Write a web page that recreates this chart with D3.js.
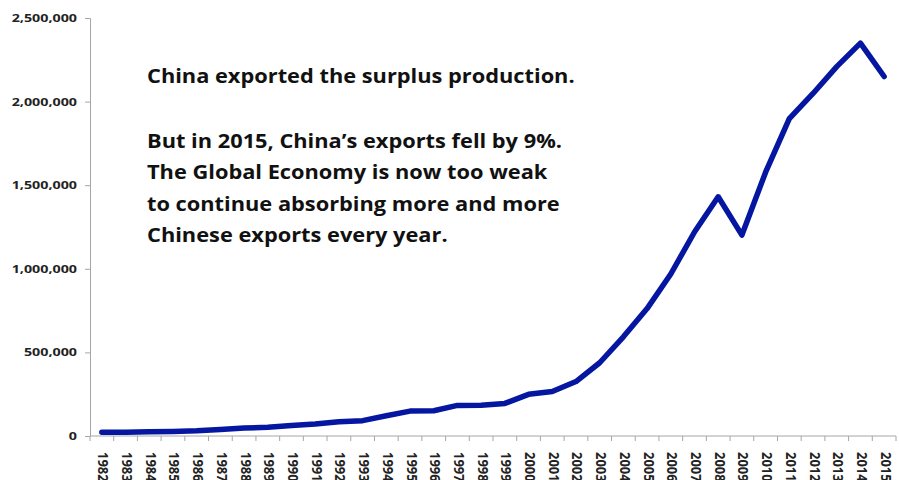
<!DOCTYPE html>
<html>
<head>
<meta charset="utf-8">
<script src="https://cdn.jsdelivr.net/npm/d3@7"></script>
<style>
  html, body { margin: 0; padding: 0; background: #fff; }
  svg { display: block; }
</style>
</head>
<body>
<svg id="chart" width="899" height="480"></svg>
<script>
// China's annual exports (US$ millions)
const years = [1982, 1983, 1984, 1985, 1986, 1987, 1988, 1989, 1990, 1991,
  1992, 1993, 1994, 1995, 1996, 1997, 1998, 1999, 2000, 2001, 2002, 2003,
  2004, 2005, 2006, 2007, 2008, 2009, 2010, 2011, 2012, 2013, 2014, 2015];
const exportsValues = [22300, 22200, 26100, 27400, 30900, 39400, 47500, 52500,
  62100, 71800, 84900, 91700, 121000, 148800, 151000, 182800, 183700, 194900,
  249200, 266100, 325600, 438200, 593300, 762000, 969000, 1220100, 1430700,
  1201600, 1577800, 1898400, 2048700, 2209000, 2350000, 2150000];
const yTicks = [0, 500000, 1000000, 1500000, 2000000, 2500000];
const noteLines = [
  "China exported the surplus production.",
  "",
  "But in 2015, China\u2019s exports fell by 9%.",
  "The Global Economy is now too weak",
  "to continue absorbing more and more",
  "Chinese exports every year."
];

const svg = d3.select("#chart");
const plotLeft = 90, plotRight = 896, plotTop = 18, plotBottom = 436;
const font = "'Open Sans', Lato, sans-serif";
const axisGrey = "#a6a6a6";
const yLabelStretch = 1.3;   // labels are set in a wide, Calibri-like cut
const xLabelStretch = 1.12;

const x = d3.scaleBand().domain(years).range([plotLeft, plotRight]);
const y = d3.scaleLinear().domain([0, 2500000]).range([plotBottom, plotTop]);

// y axis
const yAxis = svg.append("g")
  .attr("transform", `translate(${plotLeft},0)`)
  .call(d3.axisLeft(y).tickValues(yTicks).tickSize(5).tickPadding(8)
    .tickFormat(d3.format(",")));
yAxis.select(".domain").attr("stroke", axisGrey);
yAxis.selectAll(".tick line").attr("stroke", axisGrey);
yAxis.selectAll(".tick text")
  .attr("font-family", font).attr("font-size", 11).attr("font-weight", "bold")
  .attr("fill", "#222")
  .attr("transform", function () {
    // stretch horizontally about the right edge of the label
    const ax = +d3.select(this).attr("x");
    return `translate(${ax},0) scale(${yLabelStretch},1) translate(${-ax},0)`;
  });

// x axis: ticks sit on category boundaries
const xAxisG = svg.append("g").attr("transform", `translate(0,${plotBottom})`);
xAxisG.append("line")
  .attr("x1", plotLeft).attr("x2", plotRight).attr("y1", 0).attr("y2", 0)
  .attr("stroke", axisGrey);
xAxisG.selectAll("line.tk")
  .data(d3.range(years.length + 1))
  .join("line").attr("class", "tk")
  .attr("x1", i => plotLeft + i * x.step())
  .attr("x2", i => plotLeft + i * x.step())
  .attr("y1", 0).attr("y2", 5)
  .attr("stroke", axisGrey);
xAxisG.selectAll("text")
  .data(years)
  .join("text")
  .attr("transform", d =>
    `translate(${x(d) + x.bandwidth() / 2 - 3.5},16) scale(${xLabelStretch},1) rotate(90)`)
  .attr("font-family", font).attr("font-size", 13).attr("font-weight", "bold")
  .attr("fill", "#222")
  .text(d => d);

// exports line
const line = d3.line()
  .x((d, i) => x(years[i]) + x.bandwidth() / 2)
  .y(d => y(d));
svg.append("path")
  .datum(exportsValues)
  .attr("d", line)
  .attr("fill", "none")
  .attr("stroke", "#0516a0")
  .attr("stroke-width", 5.5)
  .attr("stroke-linejoin", "round")
  .attr("stroke-linecap", "round");

// annotation block
const note = svg.append("g");
note.selectAll("text")
  .data(noteLines)
  .join("text")
  .attr("x", 0)
  .attr("y", (d, i) => (i === 0 ? 83 : 85 + i * 31.4))
  .attr("font-family", font).attr("font-size", 20).attr("font-weight", "bold")
  .attr("fill", "#111")
  .text(d => d);
const firstWidth = note.select("text").node().getComputedTextLength();
const noteStretch = 428 / firstWidth;
note.attr("transform", `translate(147,0) scale(${noteStretch},1)`);
</script>
</body>
</html>
